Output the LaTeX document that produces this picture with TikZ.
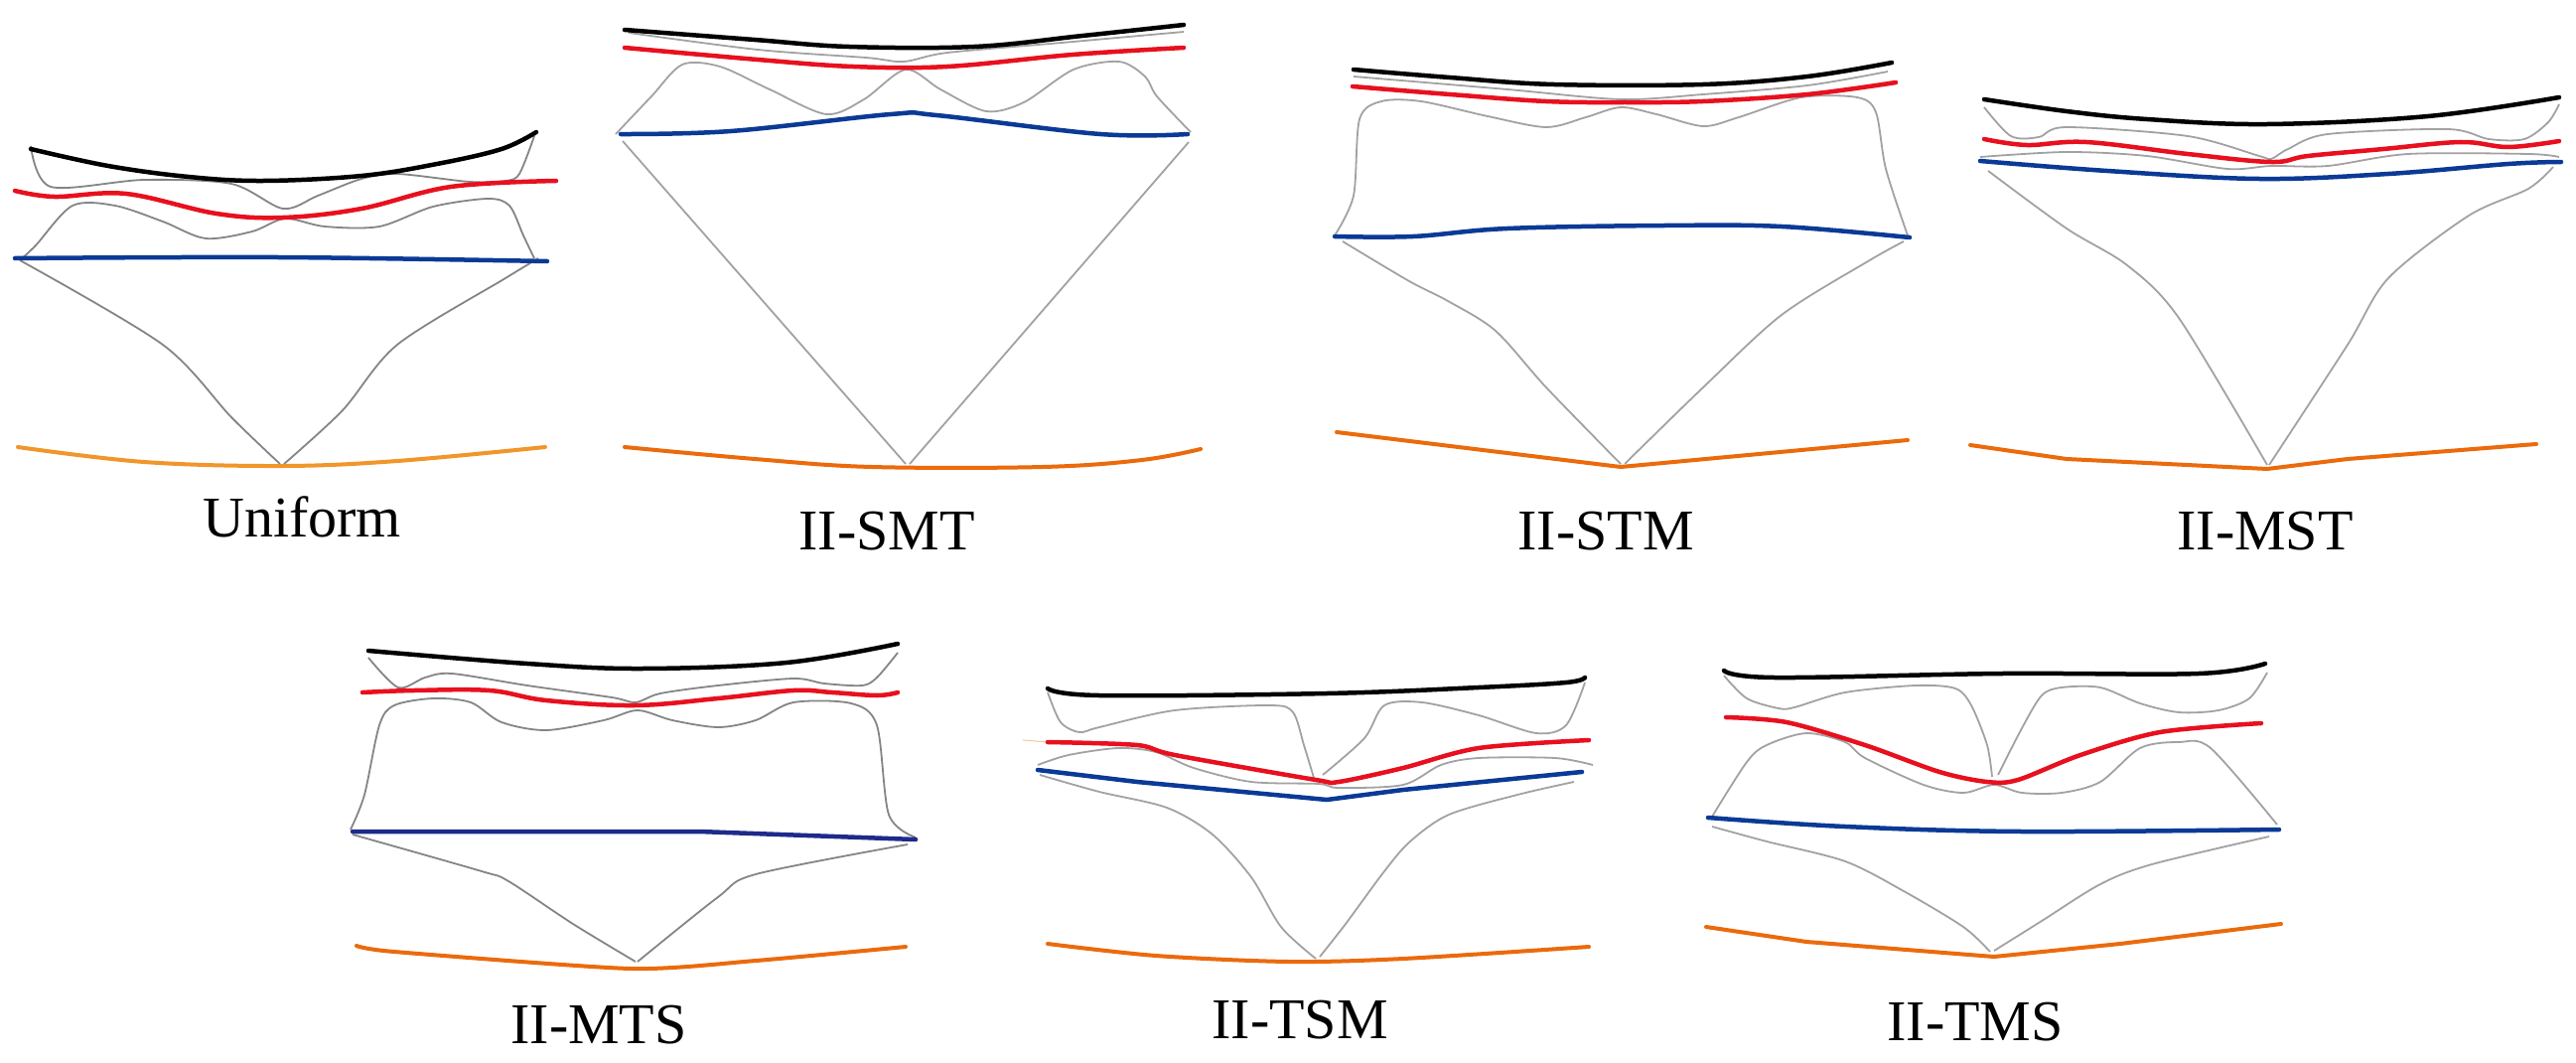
\documentclass[tikz,border=0pt]{standalone}
\usepackage{fontspec}
\setmainfont{Liberation Serif}
\definecolor{rline}{HTML}{E8101E}
\definecolor{bline}{HTML}{0B3A96}
\definecolor{nline}{HTML}{1E2A8A}
\definecolor{oline}{HTML}{EB6A0C}
\definecolor{uline}{HTML}{F0962A}
\definecolor{gline}{HTML}{A2A2A2}
\definecolor{gdark}{HTML}{858585}
\definecolor{faint}{HTML}{F5C89A}
\tikzset{
  blk/.style={draw=black, line width=4.5pt, line cap=round},
  redl/.style={draw=rline, line width=4.5pt, line cap=round},
  bluel/.style={draw=bline, line width=4.5pt, line cap=round},
  navyl/.style={draw=nline, line width=4.5pt, line cap=round},
  orl/.style={draw=oline, line width=4pt, line cap=round},
  uorl/.style={draw=uline, line width=4pt, line cap=round},
  gry/.style={draw=gline, line width=1.8pt},
  gdk/.style={draw=gdark, line width=1.8pt},
  lab/.style={anchor=base, inner sep=0pt, font=\fontsize{58}{70}\selectfont}
}
\begin{document}
\begin{tikzpicture}[x=1pt, y=-1pt]
\useasboundingbox (0,0) rectangle (2594,1070);
\fill[white] (0,0) rectangle (2594,1070);

% ---------------- Uniform ----------------
\draw[gdk] plot[smooth, tension=0.5] coordinates {(31,147) (51,188) (145,181) (233,185) (285,210) (320,197) (364,180) (400,175) (473,183) (509,182) (523,175) (538,137)};
\draw[gdk] plot[smooth, tension=0.5] coordinates {(20,262) (36,247) (73,207) (116,207) (164,223) (207,240) (254,233) (287,220) (327,228) (382,228) (436,208) (491,200) (513,207) (527,237) (538,260)};
\draw[gdk] plot[smooth, tension=0.5] coordinates {(20,262) (164,347) (233,420) (282,467)};
\draw[gdk] plot[smooth, tension=0.5] coordinates {(286,467) (345,413) (400,347) (509,280) (542,260)};
\draw[blk] plot[smooth, tension=0.6] coordinates {(31,150) (109,167) (190,178) (265,182) (364,177) (440,165) (505,150) (540,133)};
\draw[redl] plot[smooth, tension=0.6] coordinates {(15,192) (55,198) (127,195) (218,215) (285,219) (364,210) (454,188) (560,182)};
\draw[bluel] plot[smooth, tension=0.6] coordinates {(15,260) (280,259) (551,263)};
\draw[uorl] plot[smooth, tension=0.6] coordinates {(18,450) (145,465) (284,469) (400,464) (549,450)};
\node[lab] (uniform) at (304,540) {Uniform};

% ---------------- II-SMT ----------------
\draw[gry] plot[smooth, tension=0.5] coordinates {(633,33) (763,50) (872,58) (910,62) (954,53) (1069,43) (1192,32)};
\draw[gry] plot[smooth, tension=0.5] coordinates {(620,135) (656,97) (687,65) (725,67) (775,90) (832,115) (870,100) (912,70) (947,90) (993,112) (1031,103) (1081,70) (1127,62) (1153,77) (1165,97) (1199,133)};
\draw[gry] (627,142) -- (912,467);
\draw[gry] (916,467) -- (1197,143);
\draw[blk] plot[smooth, tension=0.6] coordinates {(629,30) (760,40) (855,47) (981,47) (1090,36) (1192,25)};
\draw[redl] plot[smooth, tension=0.6] coordinates {(629,48) (763,60) (859,67) (954,67) (1080,55) (1192,48)};
\draw[bluel] plot[smooth, tension=0.6] coordinates {(625,135) (736,132) (897,115) (943,116) (1108,135) (1196,135)};
\draw[orl] plot[smooth, tension=0.6] coordinates {(629,450) (760,462) (878,470) (1050,470) (1150,463) (1209,452)};
\node[lab] (smt) at (893,553) {II-SMT};

% ---------------- II-STM ----------------
\draw[gry] plot[smooth, tension=0.5] coordinates {(1363,77) (1518,90) (1632,100) (1715,95) (1820,86) (1901,72)};
\draw[gry] plot[smooth, tension=0.5] coordinates {(1344,237) (1363,197) (1369,120) (1391,102) (1431,102) (1498,117) (1557,128) (1597,118) (1632,108) (1668,115) (1715,127) (1751,118) (1814,98) (1870,98) (1889,113) (1899,170) (1921,237)};
\draw[gry] plot[smooth, tension=0.5] coordinates {(1352,243) (1419,283) (1458,303) (1506,333) (1557,390) (1632,467)};
\draw[gry] plot[smooth, tension=0.5] coordinates {(1636,467) (1715,390) (1794,317) (1881,263) (1917,243)};
\draw[blk] plot[smooth, tension=0.6] coordinates {(1363,70) (1460,78) (1565,85) (1715,85) (1820,77) (1905,63)};
\draw[redl] plot[smooth, tension=0.6] coordinates {(1362,87) (1460,95) (1557,102) (1636,103) (1715,102) (1820,95) (1909,83)};
\draw[bluel] plot[smooth, tension=0.6] coordinates {(1344,238) (1423,238) (1518,230) (1676,227) (1794,228) (1923,239)};
\draw[orl] (1346,435) -- (1632,470) -- (1921,443);
\node[lab] (stm) at (1617,553) {II-STM};

% ---------------- II-MST ----------------
\draw[gry] plot[smooth, tension=0.5] coordinates {(1998,108) (2025,137) (2053,138) (2081,128) (2203,137) (2275,157) (2287,160) (2304,150) (2344,135) (2465,130) (2506,140) (2542,140) (2566,123) (2577,105)};
\draw[gry] plot[smooth, tension=0.5] coordinates {(1994,158) (2081,153) (2162,157) (2243,170) (2287,167) (2344,167) (2425,155) (2546,155) (2577,158)};
\draw[gry] plot[smooth, tension=0.5] coordinates {(2002,172) (2081,230) (2142,267) (2194,320) (2283,468)};
\draw[gry] plot[smooth, tension=0.5] coordinates {(2285,468) (2364,347) (2405,280) (2486,217) (2546,190) (2571,168)};
\draw[blk] plot[smooth, tension=0.6] coordinates {(1998,100) (2081,112) (2162,120) (2283,125) (2445,117) (2577,98)};
\draw[redl] plot[smooth, tension=0.6] coordinates {(1998,140) (2041,146) (2101,143) (2203,155) (2287,163) (2324,157) (2400,150) (2478,143) (2526,148) (2577,142)};
\draw[bluel] plot[smooth, tension=0.6] coordinates {(1994,162) (2122,172) (2275,180) (2405,175) (2526,165) (2579,163)};
\draw[orl] (1984,448) -- (2081,462) -- (2283,472) -- (2364,462) -- (2554,447);
\node[lab] (mst) at (2281,553) {II-MST};

% ---------------- II-MTS ----------------
\draw[gdk] plot[smooth, tension=0.5] coordinates {(371,662) (401,692) (428,682) (455,678) (531,690) (616,702) (640,707) (665,698) (723,690) (799,683) (830,688) (868,690) (883,682) (904,657)};
\draw[gdk] plot[smooth, tension=0.5] coordinates {(353,835) (367,800) (382,730) (397,710) (436,703) (474,707) (505,727) (550,735) (608,725) (642,715) (677,725) (723,732) (761,725) (799,707) (857,708) (883,730) (895,820) (922,843)};
\draw[gdk] plot[smooth, tension=0.5] coordinates {(355,840) (485,877) (512,887) (577,930) (640,968)};
\draw[gdk] plot[smooth, tension=0.5] coordinates {(642,968) (723,903) (761,880) (914,850)};
\draw[blk] plot[smooth, tension=0.6] coordinates {(371,655) (531,668) (646,673) (792,667) (904,648)};
\draw[redl] plot[smooth, tension=0.6] coordinates {(365,697) (417,695) (493,695) (550,705) (639,710) (723,703) (799,695) (838,697) (883,700) (904,697)};
\draw[navyl] (355,837) -- (704,837) -- (922,845);
\draw[orl] plot[smooth, tension=0.4] coordinates {(359,952) (397,958) (635,975) (761,967) (912,953)};
\node[lab] (mts) at (603,1050) {II-MTS};

% ---------------- II-TSM ----------------
\draw[faint, line width=1pt] (1030,745) -- (1055,747);
\draw[gry] plot[smooth, tension=0.5] coordinates {(1055,697) (1068,727) (1087,737) (1107,732) (1183,715) (1279,710) (1302,717) (1313,750) (1323,783)};
\draw[gry] plot[smooth, tension=0.5] coordinates {(1332,780) (1374,743) (1394,710) (1432,707) (1489,720) (1547,738) (1577,730) (1596,687)};
\draw[gry] plot[smooth, tension=0.5] coordinates {(1045,770) (1076,760) (1126,753) (1164,757) (1202,773) (1260,787) (1328,789) (1348,793) (1413,790) (1451,770) (1489,763) (1566,763) (1604,770)};
\draw[gry] plot[smooth, tension=0.5] coordinates {(1047,780) (1107,797) (1175,813) (1221,840) (1260,883) (1290,933) (1325,965)};
\draw[gry] plot[smooth, tension=0.5] coordinates {(1329,963) (1355,930) (1394,877) (1420,847) (1459,820) (1528,800) (1585,787)};
\draw[blk] plot[smooth, tension=0.6] coordinates {(1055,693) (1107,700) (1336,698) (1489,692) (1577,687) (1596,682)};
\draw[redl] plot[smooth, tension=0.5] coordinates {(1055,747) (1145,750) (1183,760) (1325,785) (1348,787) (1413,773) (1489,753) (1600,745)};
\draw[bluel] (1045,775) -- (1145,787) -- (1336,805) -- (1413,795) -- (1593,777);
\draw[orl] plot[smooth, tension=0.5] coordinates {(1055,950) (1164,962) (1298,968) (1413,965) (1600,953)};
\node[lab] (tsm) at (1309,1045) {II-TSM};

% ---------------- II-TMS ----------------
\draw[gry] plot[smooth, tension=0.5] coordinates {(1736,680) (1759,703) (1791,713) (1807,712) (1858,697) (1929,690) (1969,693) (1985,710) (2001,750) (2006,782)};
\draw[gry] plot[smooth, tension=0.5] coordinates {(2012,780) (2036,733) (2056,700) (2076,692) (2115,692) (2155,708) (2194,717) (2234,715) (2265,703) (2283,677)};
\draw[gry] plot[smooth, tension=0.5] coordinates {(1724,822) (1759,767) (1779,750) (1819,738) (1858,747) (1878,763) (1937,790) (1977,798) (2008,790) (2036,798) (2076,798) (2115,787) (2155,753) (2194,747) (2226,753) (2293,830)};
\draw[gry] plot[smooth, tension=0.5] coordinates {(1724,832) (1779,847) (1858,867) (1917,897) (1977,933) (2004,958)};
\draw[gry] plot[smooth, tension=0.5] coordinates {(2008,957) (2056,927) (2115,890) (2167,870) (2285,842)};
\draw[blk] plot[smooth, tension=0.6] coordinates {(1736,675) (1787,682) (2016,678) (2214,678) (2281,668)};
\draw[redl] plot[smooth, tension=0.5] coordinates {(1738,722) (1799,727) (1878,750) (1953,777) (2001,787) (2032,785) (2095,760) (2175,737) (2277,728)};
\draw[bluel] plot[smooth, tension=0.6] coordinates {(1720,823) (1858,832) (2036,837) (2295,835)};
\draw[orl] (1718,933) -- (1819,948) -- (2008,963) -- (2135,950) -- (2297,930);
\node[lab] (tms) at (1989,1047) {II-TMS};
\end{tikzpicture}
\end{document}
